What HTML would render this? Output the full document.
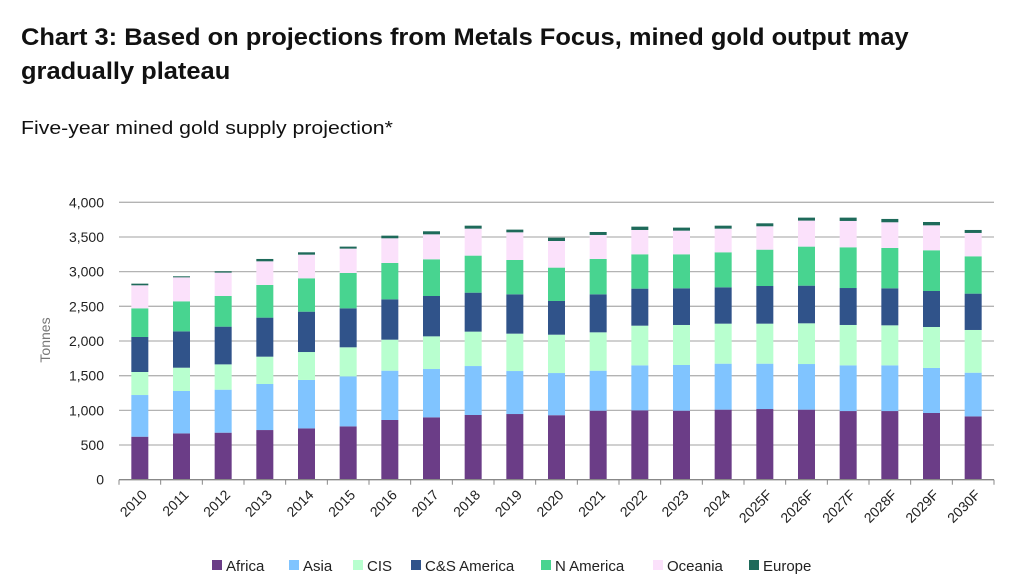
<!DOCTYPE html>
<html><head><meta charset="utf-8"><style>
body{margin:0;background:#fff;font-family:"Liberation Sans","DejaVu Sans",sans-serif;}
#wrap{position:relative;width:1011px;height:582px;overflow:hidden;}
.t{position:absolute;left:21px;font-weight:bold;font-size:24px;color:#111;transform:scaleX(1.06);transform-origin:left top;white-space:nowrap;}
</style></head><body>
<div id="wrap">
<div class="t" style="top:24px">Chart 3: Based on projections from Metals Focus, mined gold output may</div>
<div class="t" style="top:58px">gradually plateau</div>
<div style="position:absolute;left:21px;top:118px;font-size:18px;color:#111;transform:scaleX(1.18);transform-origin:left top;white-space:nowrap">Five-year mined gold supply projection*</div>
<svg id="svg" width="1011" height="582" style="position:absolute;left:0;top:0"></svg>
</div>
<script>
const categories=["2010","2011","2012","2013","2014","2015","2016","2017","2018","2019","2020","2021","2022","2023","2024","2025F","2026F","2027F","2028F","2029F","2030F"];
const africa=[620,668,678,716,740,769,861,899,933,947,930,995,1000,995,1010,1019,1010,990,990,962,913];
const asia=[601,611,620,664,698,721,711,697,706,620,608,577,649,659,663,654,658,659,659,649,630];
const cis=[332,336,365,394,403,419,447,471,496,539,553,553,572,577,577,577,587,582,577,591,616];
const csAmerica=[505,524,544,563,582,562,582,582,562,567,486,548,534,529,524,543,543,533,534,519,524];
const nAmerica=[413,433,442,471,481,510,524,529,534,495,481,510,495,490,505,524,563,587,581,587,538];
const oceania=[332,346,337,341,341,351,356,360,389,399,384,346,351,341,341,337,375,380,371,360,337];
const europe=[24,15,19,34,34,29,38,44,43,39,48,43,48,44,43,43,43,48,48,48,43];
const yTicks=[0,500,1000,1500,2000,2500,3000,3500,4000];
const seriesNames=["Africa","Asia","CIS","C&S America","N America","Oceania","Europe"];
const seriesData=[africa,asia,cis,csAmerica,nAmerica,oceania,europe];
const colors=["#6B3D87","#80C4FF","#B8FFCF","#30538A","#48D490","#FBE1FB","#1E6A5A"];
const legendX=[212,289,353,411,541,653,749];

const svg=document.getElementById('svg');const NS="http://www.w3.org/2000/svg";
const X0=119,X1=994,Y0=479.7,Y1=202.3,YMAX=4000;
const band=(X1-X0)/categories.length;
const y=v=>Y0-(v/YMAX)*(Y0-Y1);
const xc=i=>X0+band*(i+0.5);
function mk(tag,attrs,parent){const e=document.createElementNS(NS,tag);for(const k in attrs)e.setAttribute(k,attrs[k]);(parent||svg).appendChild(e);return e;}
yTicks.forEach(v=>{
 if(v>0){const g=mk('line',{x1:X0,x2:X1,y1:y(v),y2:y(v),stroke:'#b3b3b3','stroke-width':1.3});
 
 }
 const t=mk('text',{x:104,y:y(v)+5,'text-anchor':'end','font-size':14,fill:'#222'});
 t.textContent=v.toLocaleString('en-US');
 
 
});
const yt=mk('text',{x:0,y:0,transform:'translate(50,340) rotate(-90)','text-anchor':'middle','font-size':14,fill:'#777'});
yt.textContent='Tonnes';


const bw=17;
categories.forEach((c,i)=>{
 let cum=0;
 seriesData.forEach((s,k)=>{
  const r=mk('rect',{x:xc(i)-bw/2,y:y(cum+s[i]),width:bw,height:y(cum)-y(cum+s[i]),fill:colors[k]});
  
  
  cum+=s[i];
 });
 const tk=mk('line',{x1:X0+band*i,x2:X0+band*i,y1:Y0,y2:Y0+5,stroke:'#888'});
 
 
 const t=mk('text',{x:0,y:0,transform:`translate(${xc(i)+8},${Y0+16}) rotate(-45)`,'text-anchor':'end','font-size':14,fill:'#222'});
 t.textContent=c;
 
 
});
const lastTk=mk('line',{x1:X1,x2:X1,y1:Y0,y2:Y0+5,stroke:'#888'});


const ax=mk('line',{x1:X0,x2:X1,y1:Y0,y2:Y0,stroke:'#888','stroke-width':1.3});


seriesNames.forEach((n,k)=>{
 const g=mk('g',{});
 
 
 mk('rect',{x:legendX[k],y:560,width:10,height:10,fill:colors[k]},g);
 const t=mk('text',{x:legendX[k]+14,y:571,'font-size':15,fill:'#222'},g);
 t.textContent=n;
});
</script>
</body></html>
